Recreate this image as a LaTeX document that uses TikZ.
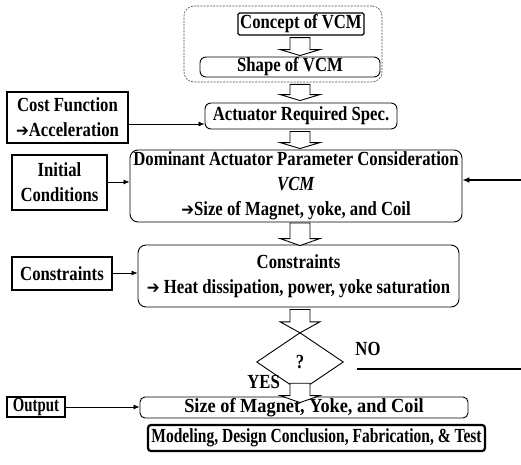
\documentclass[tikz,border=0pt]{standalone}
\usepackage{fontspec}
\setmainfont{Liberation Serif}[FakeStretch=0.835]
\newfontfamily\wideserif{Liberation Serif}[FakeStretch=0.915]
\newfontfamily\narrowserif{Liberation Serif}[FakeStretch=0.775]
\newfontfamily\outserif{Liberation Serif}[FakeStretch=0.74]
\newfontfamily\arrfont{DejaVu Sans}[FakeStretch=0.9]
\usetikzlibrary{shapes.geometric,arrows.meta,calc}
\newcommand{\rarr}{{\arrfont\fontsize{17}{25}\selectfont ➔}}
\newcommand{\hollowarr}[3]{%
  \path[hollowarrow] ($(#1)+(-10,0)$) -- ($(#2)+(-10,-#3)$) -- ($(#2)+(-20,-#3)$) -- (#2)
    -- ($(#2)+(20,-#3)$) -- ($(#2)+(10,-#3)$) -- ($(#1)+(10,0)$) -- cycle;}
\begin{document}
\begin{tikzpicture}[x=1pt,y=-1pt,
  font=\fontsize{20}{25}\selectfont\bfseries,
  sqbox/.style={draw, line width=1.5pt, inner sep=0pt, align=center},
  rbox/.style={draw, line width=0.9pt, rounded corners=6pt, inner sep=0pt, align=center},
  link/.style={-{Latex[length=6pt,width=5pt]}, line width=0.8pt},
  hollowarrow/.style={draw, line width=0.9pt, fill=white, line join=miter}]
\useasboundingbox (0,0) rectangle (521,464);

% dashed group
\node[draw=black!70, dash pattern=on 2pt off 1.2pt, line width=0.6pt, rounded corners=10pt,
      minimum width=198pt, minimum height=76pt, inner sep=0pt] (outer) at (283,44) {};
\node[sqbox, line width=1.3pt, rounded corners=1.5pt, minimum width=126pt, minimum height=22pt] (concept) at (301,24) {Concept of VCM};
\node[rbox, minimum width=180pt, minimum height=20pt] (shape) at (290,67) {Shape of VCM};

\node[rbox, minimum width=192pt, minimum height=26pt] (spec) at (301,116) {Actuator Required Spec.};
\node[sqbox, minimum width=121pt, minimum height=51pt] (cost) at (67.5,117.5) {Cost Function\\\rarr Acceleration};

\node[rbox, rounded corners=8pt, minimum width=332pt, minimum height=72pt] (dom) at (296,186)
  {Dominant Actuator Parameter Consideration\\\textit{VCM}\\\rarr Size of Magnet, yoke, and Coil};
\node[sqbox, minimum width=95pt, minimum height=55pt] (init) at (59.5,182.5) {Initial\\Conditions};

\node[rbox, rounded corners=8pt, minimum width=321pt, minimum height=62pt] (cons) at (298.5,276)
  {Constraints\\\rarr{} Heat dissipation, power, yoke saturation};
\node[sqbox, minimum width=100pt, minimum height=33pt] (consL) at (62,273.5) {Constraints};

\node[minimum width=86pt, minimum height=58pt, inner sep=0pt] (dia) at (300,362) {?};
\draw[line width=0.9pt, line join=miter] (dia.north) -- (dia.east) -- (dia.south) -- (dia.west) -- cycle;
\node (no) at (368,349) {NO};
\node[anchor=east, inner sep=0pt] (yes) at (280,382) {YES};

\node[rbox, rounded corners=5pt, minimum width=328pt, minimum height=21pt] (size) at (304,407.5) {\wideserif Size of Magnet, Yoke, and Coil};
\node[sqbox, minimum width=58pt, minimum height=20pt] (out) at (36,407) {\outserif Output};
\node[draw, line width=2.2pt, rounded corners=3pt, inner sep=0pt, minimum width=337pt, minimum height=26pt] (final) at (316.5,438)
  {\narrowserif Modeling, Design Conclusion, Fabrication, \& Test};

% side connectors
\coordinate (cy) at (0,124);
\coordinate (iy) at (0,182);
\coordinate (ky) at (0,273);
\coordinate (oy) at (0,407);
\draw[link] (cost.east |- cy) -- (spec.west |- cy);
\draw[link] (init.east |- iy) -- (dom.west |- iy);
\draw[link] (consL.east |- ky) -- (cons.west |- ky);
\draw[link] (out.east |- oy) -- (size.west |- oy);

\coordinate (rin) at (521,180);
\draw[-{Latex[length=7pt,width=6pt]}, line width=1.6pt] (rin) -- (dom.east |- rin);
\coordinate (nos) at (357,369);
\coordinate (noe) at (521,369);
\draw[line width=2pt] (nos) -- (noe);

% hollow flow arrows
\coordinate (ax) at (300,0);
\coordinate (a1s) at ($(concept.south -| ax)+(0,2)$);
\coordinate (a1e) at ($(shape.north -| ax)+(0,-1)$);
\hollowarr{a1s}{a1e}{6}
\coordinate (a2s) at ($(outer.south -| ax)+(0,2)$);
\coordinate (a2e) at ($(spec.north -| ax)+(0,-2)$);
\hollowarr{a2s}{a2e}{6}
\coordinate (a3s) at ($(spec.south -| ax)+(0,2)$);
\coordinate (a3e) at ($(dom.north -| ax)+(0,-1)$);
\hollowarr{a3s}{a3e}{6}
\coordinate (a4s) at ($(dom.south -| ax)+(0,0.5)$);
\coordinate (a4e) at ($(cons.north -| ax)+(0,1)$);
\hollowarr{a4s}{a4e}{7}
\coordinate (a5s) at ($(cons.south -| ax)+(0,2)$);
\coordinate (a5e) at (dia.north);
\hollowarr{a5s}{a5e}{11}
\coordinate (a6s) at ($(dia.south)+(0,-8)$);
\coordinate (a6e) at ($(size.north -| a6s)+(0,6)$);
\hollowarr{a6s}{a6e}{7}
\end{tikzpicture}
\end{document}
